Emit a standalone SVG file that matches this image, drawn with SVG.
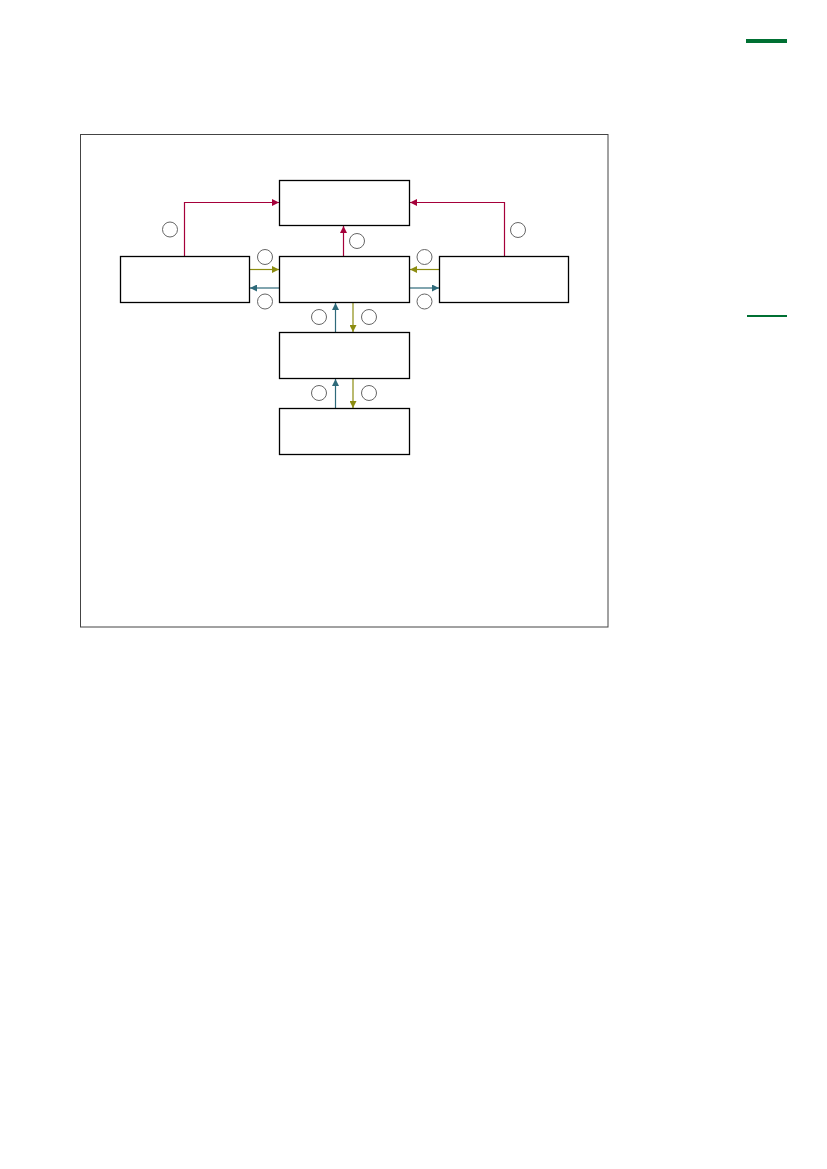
<svg xmlns="http://www.w3.org/2000/svg" width="827" height="1169" viewBox="0 0 827 1169">
<style>
.node{fill:#fff;stroke:#000;stroke-width:1.3}
.lbl{fill:none;stroke:#555;stroke-width:0.9}
.red{fill:none;stroke:#a5003a;stroke-width:1.2}
.olv{fill:none;stroke:#8c8c10;stroke-width:1.2}
.tea{fill:none;stroke:#2e6a7a;stroke-width:1.2}
</style>
<defs>
<marker id="aR" viewBox="0 0 10 10" refX="10" refY="5" markerWidth="7" markerHeight="7" markerUnits="userSpaceOnUse" orient="auto"><path d="M0,0L10,5L0,10z" fill="#a5003a"/></marker>
<marker id="aO" viewBox="0 0 10 10" refX="10" refY="5" markerWidth="7" markerHeight="7" markerUnits="userSpaceOnUse" orient="auto"><path d="M0,0L10,5L0,10z" fill="#8c8c10"/></marker>
<marker id="aT" viewBox="0 0 10 10" refX="10" refY="5" markerWidth="7" markerHeight="7" markerUnits="userSpaceOnUse" orient="auto"><path d="M0,0L10,5L0,10z" fill="#2e6a7a"/></marker>
</defs>
<rect width="827" height="1169" fill="#fff"/>
<rect x="746" y="39" width="41" height="4" fill="#007033"/>
<rect x="747" y="315" width="40" height="2" fill="#007033"/>
<rect id="frame" x="80.5" y="134.5" width="527.5" height="492.5" fill="none" stroke="#444" stroke-width="1"/>
<g id="connectors">
<path class="red" d="M184.5,256.5V202.5H279" marker-end="url(#aR)"/>
<path class="red" d="M504.5,256.5V202.5H410" marker-end="url(#aR)"/>
<path class="red" d="M343.5,256.5V226" marker-end="url(#aR)"/>
<path class="olv" d="M249.5,269.5H279" marker-end="url(#aO)"/>
<path class="tea" d="M279.5,288H250" marker-end="url(#aT)"/>
<path class="olv" d="M439.5,269.5H410" marker-end="url(#aO)"/>
<path class="tea" d="M409.5,288H439" marker-end="url(#aT)"/>
<path class="tea" d="M335.5,332.5V303" marker-end="url(#aT)"/>
<path class="olv" d="M353,302.5V332" marker-end="url(#aO)"/>
<path class="tea" d="M335.5,408.5V379" marker-end="url(#aT)"/>
<path class="olv" d="M353,378.5V408" marker-end="url(#aO)"/>
</g>
<g id="labels">
<circle class="lbl" cx="170" cy="229.5" r="7.5"/>
<circle class="lbl" cx="357" cy="241" r="7.5"/>
<circle class="lbl" cx="265" cy="257" r="7.5"/>
<circle class="lbl" cx="265" cy="301.5" r="7.5"/>
<circle class="lbl" cx="424.5" cy="257" r="7.5"/>
<circle class="lbl" cx="424.5" cy="301.5" r="7.5"/>
<circle class="lbl" cx="518" cy="230" r="7.5"/>
<circle class="lbl" cx="319" cy="317" r="7.5"/>
<circle class="lbl" cx="369" cy="317" r="7.5"/>
<circle class="lbl" cx="319" cy="393" r="7.5"/>
<circle class="lbl" cx="369" cy="393" r="7.5"/>
</g>
<g id="node-top"><rect class="node" x="279.5" y="180.5" width="130" height="45"/></g>
<g id="node-left"><rect class="node" x="120.5" y="256.5" width="129" height="46"/></g>
<g id="node-center"><rect class="node" x="279.5" y="256.5" width="130" height="46"/></g>
<g id="node-right"><rect class="node" x="439.5" y="256.5" width="129" height="46"/></g>
<g id="node-mid"><rect class="node" x="279.5" y="332.5" width="130" height="46"/></g>
<g id="node-bottom"><rect class="node" x="279.5" y="408.5" width="130" height="46"/></g>
</svg>
